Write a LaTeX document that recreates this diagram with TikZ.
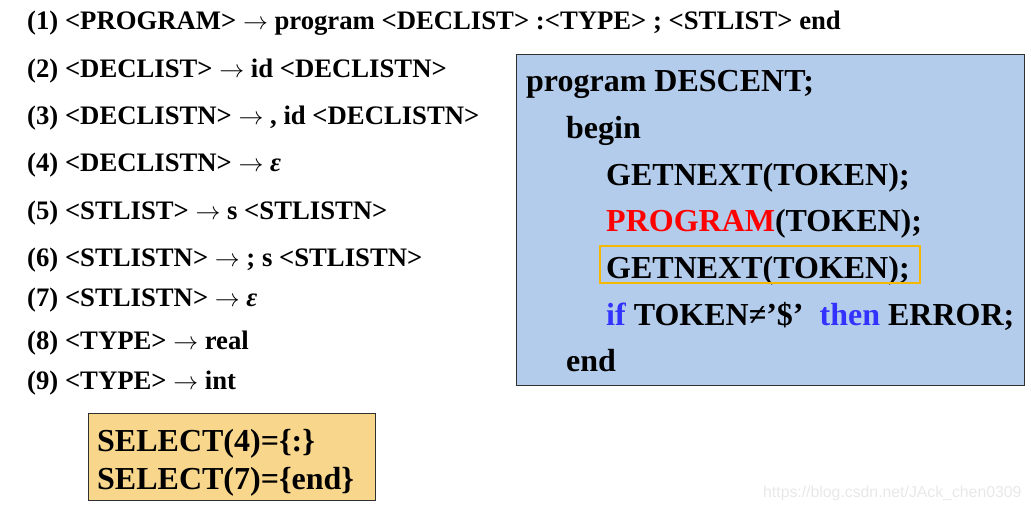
\documentclass[tikz,border=0pt]{standalone}
\usepackage{fontspec}
\setmainfont{Liberation Serif}
\newfontfamily\wmfont{Liberation Sans}
\definecolor{codeblue}{HTML}{B4CCEB}
\definecolor{selyellow}{HTML}{F8D68C}
\definecolor{boxorange}{HTML}{F5B800}
\definecolor{kwblue}{HTML}{3333FF}
\definecolor{kwred}{HTML}{FF0000}
\definecolor{frame}{HTML}{303030}
\newcommand{\ar}{$\rightarrow$}
\begin{document}
\begin{tikzpicture}[x=1pt,y=-1pt,
  rule/.style={anchor=base west,inner sep=0pt,font=\fontsize{26.7}{30}\selectfont\bfseries},
  code/.style={anchor=base west,inner sep=0pt,font=\fontsize{32}{36}\selectfont\bfseries},
  panel/.style={draw=frame,line width=0.8pt}]
\useasboundingbox (0,0) rectangle (1031,509);
% rules
\node[rule] (r1) at (27,29) {(1) <PROGRAM> \ar{} program <DECLIST> :<TYPE> ; <STLIST> end};
\node[rule] (r2) at (27,77) {(2) <DECLIST> \ar{} id <DECLISTN>};
\node[rule] (r3) at (27,124) {(3) <DECLISTN> \ar{} , id <DECLISTN>};
\node[rule] (r4) at (27,171) {(4) <DECLISTN> \ar{} \textit{ε}};
\node[rule] (r5) at (27,219) {(5) <STLIST> \ar{} s <STLISTN>};
\node[rule] (r6) at (27,266) {(6) <STLISTN> \ar{} ; s <STLISTN>};
\node[rule] (r7) at (27,306) {(7) <STLISTN> \ar{} \textit{ε}};
\node[rule] (r8) at (27,349) {(8) <TYPE> \ar{} real};
\node[rule] (r9) at (27,389) {(9) <TYPE> \ar{} int};
% code panel
\draw[panel,fill=codeblue] (516,54) rectangle (1024,385);
\node[code] (c1) at (526,91) {program DESCENT;};
\node[code] (c2) at (566,138) {begin};
\node[code] (c3) at (606,185) {GETNEXT(TOKEN);};
\node[code] (c4) at (606,231) {\textcolor{kwred}{PROGRAM}(TOKEN);};
\node[code] (c5) at (606,278) {GETNEXT(TOKEN);};
\node[code] (c6) at (606,325) {\textcolor{kwblue}{if} TOKEN≠’\$’\ \ \textcolor{kwblue}{then} ERROR;};
\node[code] (c7) at (566,371) {end};
\draw[boxorange,line width=1.6pt] (600,246) rectangle (920,283);
% select panel
\draw[panel,fill=selyellow] (88,413) rectangle (375,500);
\node[code] (s1) at (97,451) {SELECT(4)=\{:\}};
\node[code] (s2) at (97,489) {SELECT(7)=\{end\}};
% watermark
\node[anchor=base west,inner sep=0pt,text=black!9,font=\wmfont\fontsize{15.8}{18}\selectfont] (wm) at (763,497) {https://blog.csdn.net/JAck\_chen0309};
\end{tikzpicture}
\end{document}
